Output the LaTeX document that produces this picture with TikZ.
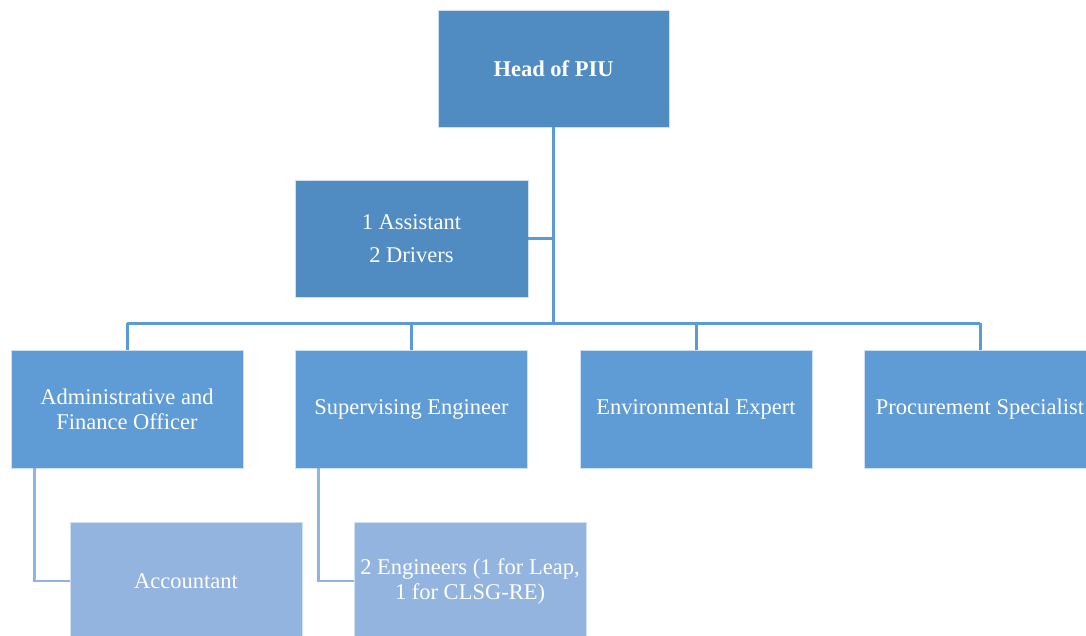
\documentclass[tikz,border=0pt]{standalone}
\usepackage{fontspec}
\setmainfont{Liberation Serif}
\definecolor{dark}{HTML}{508BC1}
\definecolor{mid}{HTML}{5F9BD5}
\definecolor{light}{HTML}{92B4DF}
\definecolor{line}{HTML}{5B9BD5}
\definecolor{lline}{HTML}{8FB4E2}
\begin{document}
\begin{tikzpicture}[x=1pt,y=-1pt,
  box/.style={draw=white!70!line, line width=0.6pt, text=white, align=center,
    inner sep=0pt, font=\fontsize{22.5}{25}\selectfont},
  top/.style={box, fill=dark, minimum width=231pt, minimum height=117pt},
  lvl/.style={box, fill=mid, minimum width=232pt, minimum height=118pt},
  sub/.style={box, fill=light, minimum width=232pt, minimum height=118pt},
  conn/.style={draw=line, line width=3pt},
  lconn/.style={draw=lline, line width=2.8pt}]
\useasboundingbox (0,0) rectangle (1086,635);
\node[top, font=\bfseries\fontsize{22.5}{25}\selectfont] (head) at (553.5,68.5) {Head of PIU};
\node[top, minimum width=233pt] (asst) at (411.5,238.5) {1 Assistant\\[8pt]2 Drivers};
\node[lvl] (admin) at (127,409) {Administrative and\\Finance Officer};
\node[lvl] (sup) at (411.5,409) {Supervising Engineer};
\node[lvl] (env) at (696,409) {Environmental Expert};
\node[lvl] (proc) at (980,409) {Procurement Specialist};
\node[sub] (acct) at (186,581) {Accountant};
\node[sub] (eng) at (470,581) {2 Engineers (1 for Leap,\\1 for CLSG-RE)};
\coordinate (busc) at (553.5,323);
\draw[conn] (head.south) -- (busc);
\draw[conn] (asst.east) -- (asst.east -| head.south);
\draw[conn] (admin.north |- busc) -- (proc.north |- busc);
\draw[conn] (admin.north |- busc) -- (admin.north);
\draw[conn] (sup.north |- busc) -- (sup.north);
\draw[conn] (env.north |- busc) -- (env.north);
\draw[conn] (proc.north |- busc) -- (proc.north);
\draw[lconn] ([xshift=24pt]admin.south west) |- (acct.west);
\draw[lconn] ([xshift=23pt]sup.south west) |- (eng.west);
\end{tikzpicture}
\end{document}
